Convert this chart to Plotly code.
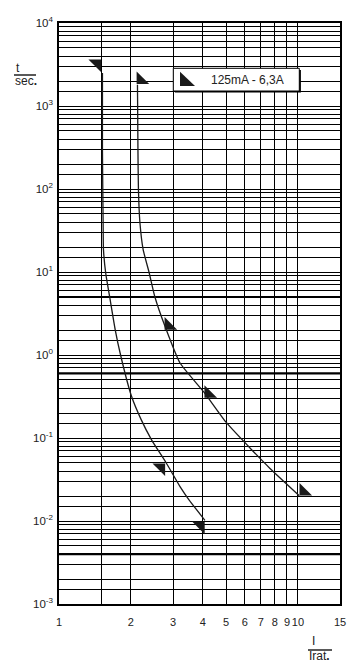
import plotly.graph_objects as go

# ---------------- data ----------------
# left curve (I/Irat, t in s)
c1_x = [1.52, 1.52, 1.52, 1.525, 1.53, 1.535, 1.57, 1.63, 1.72, 1.81, 2.01, 2.2, 2.44, 2.80, 3.21, 3.5, 4.08]
c1_t = [2500, 1000, 300, 100, 40, 18.6, 9.5, 5.0, 2.0, 1.0, 0.32, 0.17, 0.095, 0.051, 0.026, 0.018, 0.0102]
# right curve
c2_x = [2.13, 2.135, 2.14, 2.15, 2.18, 2.25, 2.38, 2.52, 2.78, 3.21, 4.05, 5.0, 6.4, 7.64, 10.13]
c2_t = [1800, 800, 300, 100, 40, 18.6, 10, 5, 2.2, 0.8, 0.354, 0.155, 0.0723, 0.043, 0.0202]
# triangle markers (centroids)
m1_x = [1.44, 2.67, 3.91]
m1_t = [3236, 0.0439, 0.00875]
m2_x = [2.20, 2.88, 4.23, 10.57]
m2_t = [2063, 2.27, 0.343, 0.0228]

legend_text = "125mA - 6,3A"

# axes / grid
x_ticks = [1, 2, 3, 4, 5, 6, 7, 8, 9, 10, 15]
x_labels = ["1", "2", "3", "4", "5", "6", "7", "8", "9", "10", "15"]
x_minor = [1.5]
y_decades = [-3, -2, -1, 0, 1, 2, 3, 4]
y_mantissas = [1.5, 2, 3, 4, 5, 6, 7, 8, 9]
thick_lines = [5, 0.6, 0.004]

# ---------------- layout geometry ----------------
W, H = 362, 669
L, R, T, B = 59, 22, 23, 65
PW, PH = W - L - R, H - T - B


def px(xp):
    return (xp - L) / PW


def py(yp):
    return (H - B - yp) / PH


y_ticks = [10.0 ** d for d in y_decades]
y_labels = [f"10<sup>{d}</sup>" for d in y_decades]
y_minor = [m * 10.0 ** d for d in y_decades[:-1] for m in y_mantissas]

ink = "#1a1a1a"
fig = go.Figure()
fig.add_trace(go.Scatter(x=c1_x, y=c1_t, mode="lines",
                         line=dict(color=ink, width=1.3, shape="spline", smoothing=0.5),
                         showlegend=False, hoverinfo="skip"))
fig.add_trace(go.Scatter(x=c2_x, y=c2_t, mode="lines",
                         line=dict(color=ink, width=1.3, shape="spline", smoothing=0.5),
                         showlegend=False, hoverinfo="skip"))
fig.add_trace(go.Scatter(x=m1_x, y=m1_t, mode="markers",
                         marker=dict(symbol="triangle-ne", size=14, color=ink, line=dict(width=0)),
                         showlegend=False))
fig.add_trace(go.Scatter(x=m2_x, y=m2_t, mode="markers",
                         marker=dict(symbol="triangle-sw", size=14, color=ink, line=dict(width=0)),
                         showlegend=False))

font = "Liberation Sans, Arial, sans-serif"

fig.update_xaxes(type="log", range=[0, 1.1760913], tickmode="array", tickvals=x_ticks, ticktext=x_labels,
                 tickangle=0, ticklabelstandoff=7,
                 showgrid=True, gridcolor="black", gridwidth=1,
                 minor=dict(tickmode="array", tickvals=x_minor, showgrid=True, gridcolor="black", gridwidth=1, ticks=""),
                 showline=True, linecolor="black", linewidth=1.5, mirror=True,
                 ticks="", zeroline=False, tickfont=dict(family=font, size=11, color="#222"))
fig.update_yaxes(type="log", range=[-3, 4], tickmode="array", tickvals=y_ticks, ticktext=y_labels,
                 ticklabelstandoff=2,
                 showgrid=True, gridcolor="black", gridwidth=1,
                 minor=dict(tickmode="array", tickvals=y_minor, showgrid=True, gridcolor="black", gridwidth=1, ticks=""),
                 showline=True, linecolor="black", linewidth=1.5, mirror=True,
                 ticks="", zeroline=False, tickfont=dict(family=font, size=11.5, color="#222"))

shapes = []
for v in thick_lines:
    shapes.append(dict(type="line", xref="paper", yref="y", x0=0, x1=1, y0=v, y1=v,
                       line=dict(color="black", width=2.2), layer="below"))
# axis title fraction bars
shapes.append(dict(type="line", xref="paper", yref="paper", x0=px(14), x1=px(36), y0=py(75), y1=py(75),
                   line=dict(color="#222", width=1.5)))
shapes.append(dict(type="line", xref="paper", yref="paper", x0=px(308), x1=px(332), y0=py(650), y1=py(650),
                   line=dict(color="#222", width=1.5)))
# legend box with shadow
sh = 1.6
shapes.append(dict(type="rect", xref="paper", yref="paper", x0=px(173.3 + sh), x1=px(299.3 + sh),
                   y0=py(91 + sh), y1=py(68.3 + sh), fillcolor="black", line=dict(width=0), layer="above"))
shapes.append(dict(type="rect", xref="paper", yref="paper", x0=px(173.3), x1=px(299.3),
                   y0=py(91), y1=py(68.3), fillcolor="white", line=dict(color="black", width=1), layer="above"))
shapes.append(dict(type="path", xref="paper", yref="paper",
                   path=f"M{px(180)},{py(71.7)} L{px(180)},{py(86)} L{px(195)},{py(86)} Z",
                   fillcolor=ink, line=dict(width=0), layer="above"))

annotations = [
    dict(text="t", x=px(14), y=py(68), xref="paper", yref="paper", xanchor="left", yanchor="middle",
         showarrow=False, font=dict(family=font, size=12, color="#222")),
    dict(text="sec<b>.</b>", x=px(13), y=py(81.5), xref="paper", yref="paper", xanchor="left", yanchor="middle",
         showarrow=False, font=dict(family=font, size=12, color="#222")),
    dict(text="I", x=px(310), y=py(641), xref="paper", yref="paper", xanchor="left", yanchor="middle",
         showarrow=False, font=dict(family=font, size=12, color="#222")),
    dict(text="Irat<b>.</b>", x=px(307), y=py(656), xref="paper", yref="paper", xanchor="left", yanchor="middle",
         showarrow=False, font=dict(family=font, size=12, color="#222")),
    dict(text=legend_text, x=px(209), y=py(79.5), xref="paper", yref="paper", xanchor="left", yanchor="middle",
         showarrow=False, font=dict(family=font, size=12, color="#222")),
]

fig.update_layout(width=W, height=H, margin=dict(l=L, r=R, t=T, b=B, autoexpand=False),
                  paper_bgcolor="white", plot_bgcolor="white",
                  shapes=shapes, annotations=annotations, showlegend=False)

fig.write_html("out.html")
